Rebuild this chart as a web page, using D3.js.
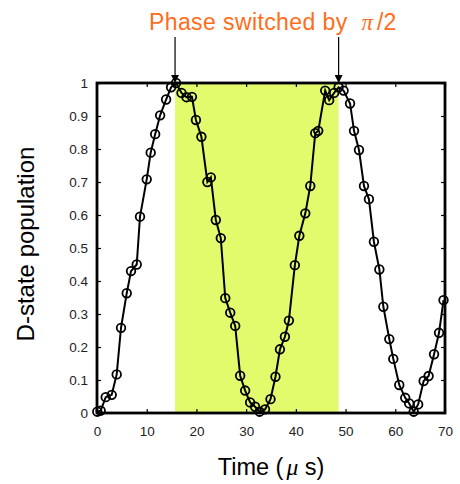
<!DOCTYPE html>
<html>
<head>
<meta charset="utf-8">
<script src="https://cdn.jsdelivr.net/npm/d3@7"></script>
<style>
  body { margin: 0; background: #fff; }
  svg text { font-family: "Liberation Sans", Arial, sans-serif; }
</style>
</head>
<body>
<svg id="chart" width="460" height="484"></svg>
<script>
// measured points (time in microseconds, D-state population)
const times = [0.06, 0.74, 1.75, 2.96, 3.96, 4.83, 5.98, 6.84, 7.99, 8.65, 10.0, 10.8, 11.7, 12.7, 13.9, 14.9,
  15.9, 17.0, 18.0, 19.1, 19.9, 21.0, 22.2, 22.9, 23.9, 24.9, 25.8, 26.8, 27.8, 28.8, 29.8, 30.8, 31.8, 32.7,
  33.8, 34.9, 35.9, 36.8, 37.8, 38.6, 39.8, 40.7, 41.9, 42.9, 43.9, 44.5, 45.9, 46.7, 47.7, 48.6, 49.6, 50.9,
  51.7, 52.7, 53.7, 54.7, 55.7, 56.8, 57.6, 58.8, 59.6, 60.8, 62.0, 62.8, 63.7, 64.6, 65.7, 66.7, 67.8, 68.8, 69.7];
const population = [0.004, 0.007, 0.048, 0.055, 0.117, 0.258, 0.363, 0.43, 0.45, 0.595, 0.708, 0.789, 0.845, 0.902, 0.95, 0.987,
  1.0, 0.97, 0.957, 0.958, 0.888, 0.837, 0.70, 0.714, 0.585, 0.53, 0.348, 0.304, 0.264, 0.113, 0.068, 0.032, 0.019, 0.004,
  0.011, 0.042, 0.11, 0.193, 0.231, 0.28, 0.448, 0.537, 0.605, 0.688, 0.848, 0.855, 0.977, 0.948, 0.97, 0.987, 0.977, 0.938,
  0.855, 0.797, 0.688, 0.648, 0.519, 0.435, 0.322, 0.224, 0.164, 0.085, 0.046, 0.029, 0.004, 0.026, 0.097, 0.112, 0.178, 0.243, 0.342];

const xTicks = [0, 10, 20, 30, 40, 50, 60, 70];
const yTicks = [0, 0.1, 0.2, 0.3, 0.4, 0.5, 0.6, 0.7, 0.8, 0.9, 1];
const switchTimes = [15.7, 48.6];   // phase switched here (shaded between)

const svg = d3.select('#chart');
const pLeft = 97, pRight = 445, pTop = 83, pBottom = 413;

const x = d3.scaleLinear().domain([0, 70]).range([pLeft, pRight]);
const y = d3.scaleLinear().domain([0, 1]).range([pBottom, pTop]);

// shaded interval
svg.append('rect')
  .attr('x', x(switchTimes[0]))
  .attr('y', pTop)
  .attr('width', x(switchTimes[1]) - x(switchTimes[0]))
  .attr('height', pBottom - pTop)
  .attr('fill', '#e1fb6c');

// axes with inward ticks
const fmtY = d => d === 0 ? '0' : d === 1 ? '1' : d3.format('.1f')(d);

const gx = svg.append('g').attr('transform', `translate(0,${pBottom})`)
  .call(d3.axisBottom(x).tickValues(xTicks).tickSizeInner(-4).tickSizeOuter(0).tickPadding(13));
const gxTop = svg.append('g').attr('transform', `translate(0,${pTop})`)
  .call(d3.axisTop(x).tickValues(xTicks).tickSizeInner(-4).tickSizeOuter(0).tickFormat(''));
const gy = svg.append('g').attr('transform', `translate(${pLeft},0)`)
  .call(d3.axisLeft(y).tickValues(yTicks).tickSizeInner(-4).tickSizeOuter(0).tickPadding(9).tickFormat(fmtY));
const gyRight = svg.append('g').attr('transform', `translate(${pRight},0)`)
  .call(d3.axisRight(y).tickValues(yTicks).tickSizeInner(-4).tickSizeOuter(0).tickFormat(''));

[gx, gxTop, gy, gyRight].forEach(g => {
  g.select('.domain').remove();
  g.selectAll('.tick line').attr('stroke', '#000').attr('stroke-width', 1.2);
  g.selectAll('text').attr('font-size', 13.5).attr('fill', '#222');
});

// frame
svg.append('rect')
  .attr('x', pLeft).attr('y', pTop)
  .attr('width', pRight - pLeft).attr('height', pBottom - pTop)
  .attr('fill', 'none').attr('stroke', '#000').attr('stroke-width', 2.8);

// data line + open circles
const data = times.map((t, i) => ({ t, v: population[i] }));
svg.append('path')
  .datum(data)
  .attr('fill', 'none')
  .attr('stroke', '#000')
  .attr('stroke-width', 2)
  .attr('d', d3.line().x(d => x(d.t)).y(d => y(d.v)));

svg.append('g').selectAll('circle')
  .data(data)
  .join('circle')
  .attr('cx', d => x(d.t))
  .attr('cy', d => y(d.v))
  .attr('r', 4.3)
  .attr('fill', 'none')
  .attr('stroke', '#000')
  .attr('stroke-width', 1.8);

// arrows marking the phase switch
svg.append('defs').append('marker')
  .attr('id', 'head')
  .attr('viewBox', '0 0 10 10')
  .attr('refX', 10).attr('refY', 5)
  .attr('markerWidth', 8).attr('markerHeight', 8)
  .attr('markerUnits', 'userSpaceOnUse')
  .attr('orient', 'auto')
  .append('path').attr('d', 'M0,0 L10,5 L0,10 Z').attr('fill', '#000');

switchTimes.forEach(t => {
  svg.append('line')
    .attr('x1', x(t)).attr('x2', x(t))
    .attr('y1', 37).attr('y2', pTop)
    .attr('stroke', '#000').attr('stroke-width', 1.2)
    .attr('marker-end', 'url(#head)');
});

// title
const title = svg.append('text')
  .attr('x', 149).attr('y', 30)
  .attr('font-size', 23)
  .attr('fill', '#ff6d1a');
title.append('tspan').text('Phase switched by').attr('letter-spacing', 0.4);
title.append('tspan').text('π')
  .attr('font-family', '"Liberation Serif", serif').attr('font-style', 'italic').attr('dx', 14);
title.append('tspan').text('/2').attr('dx', 4);

// axis labels
const xl = svg.append('text')
  .attr('x', 271).attr('y', 475)
  .attr('text-anchor', 'middle')
  .attr('font-size', 23.5)
  .attr('fill', '#000');
xl.append('tspan').text('Time (');
xl.append('tspan').text('μ').attr('font-family', '"Liberation Serif", serif').attr('font-style', 'italic').attr('dx', 3);
xl.append('tspan').text(' s)');

svg.append('text')
  .attr('transform', 'translate(34,244) rotate(-90)')
  .attr('text-anchor', 'middle')
  .attr('font-size', 24)
  .attr('fill', '#000')
  .text('D-state population');
</script>
</body>
</html>
